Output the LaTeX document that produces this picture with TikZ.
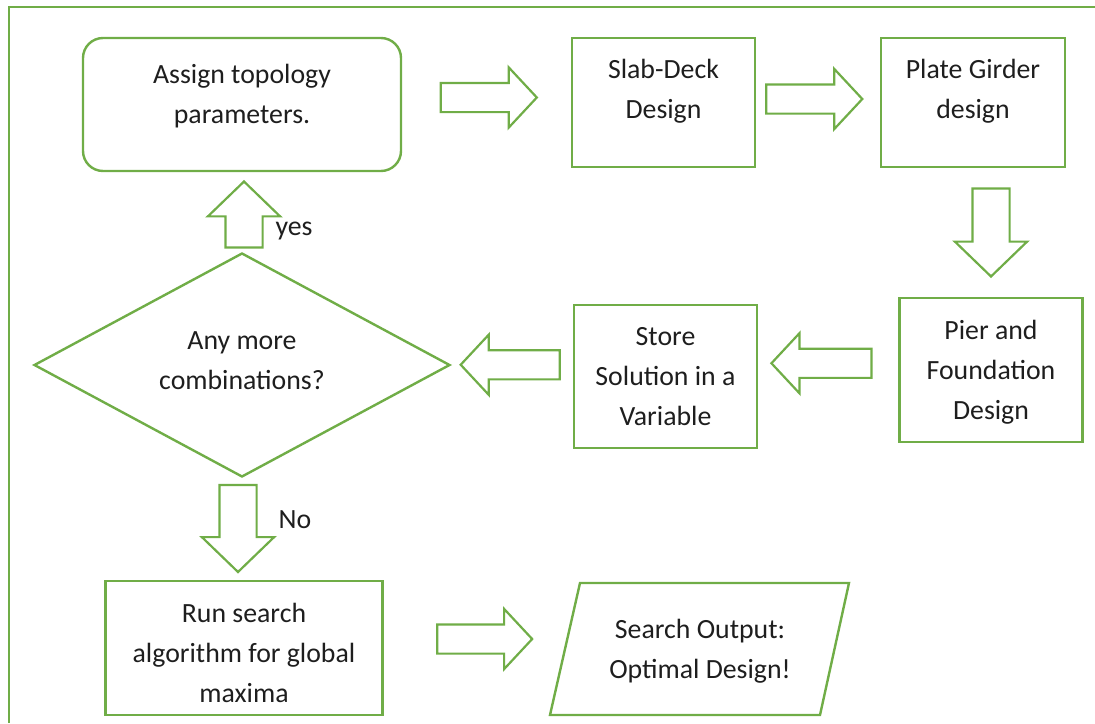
\documentclass[tikz,border=0pt]{standalone}
\usepackage{fontspec}
\setmainfont{Carlito}
\usepackage{tikz}
\usetikzlibrary{shapes.geometric, shapes.arrows, calc}
\definecolor{grn}{HTML}{70AD47}
\definecolor{ink}{HTML}{1E1E1E}

\begin{document}
\begin{tikzpicture}[
    x=1pt,y=-1pt,
    every node/.style={font=\fontsize{27.8}{40}\selectfont, text=ink, align=center},
    box/.style={draw=grn, line width=2.4pt, inner sep=0pt},
    txt/.style={inner sep=0pt},
    harrow/.style={single arrow, draw=grn, line width=2.2pt, fill=white, inner sep=13.5,
      single arrow head extend=15.5, single arrow tip angle=94},
    varrow/.style={single arrow, draw=grn, line width=2.2pt, fill=white, inner sep=17.5,
      single arrow head extend=17.5, single arrow tip angle=92}
    ]
    \useasboundingbox (0,0) rectangle (1095,723);
    \draw[grn, line width=2pt] (9,723) -- (9,7) -- (1095,7);

    \node[box, rounded corners=20, minimum width=318, minimum height=133] (assign) at (242,104.5) {};
    \node[txt] (assigntext) at (242,96.5) {Assign topology\\parameters.};
    \node[box, minimum width=183, minimum height=129] (slab) at (663.5,102.5) {};
    \node[txt] (slabtext) at (663.5,91.5) {Slab-Deck\\Design};
    \node[box, minimum width=184, minimum height=129] (plate) at (973,102.5) {};
    \node[txt] (platetext) at (973,91.5) {Plate Girder\\design};
    \node[box, minimum width=183, minimum height=144] (pier) at (991,370) {};
    \node[txt] (piertext) at (991,372) {Pier and\\Foundation\\Design};
    \node[box, minimum width=183, minimum height=143] (store) at (665.5,376.5) {Store\\Solution in a\\Variable};
    \node[box, diamond, minimum width=416, minimum height=224] (decide) at (242,365) {};
    \node[txt] (decidetext) at (242,361) {Any more\\combinations?};
    \node[box, minimum width=277, minimum height=134] (run) at (244,648) {};
    \node[txt] (runtext) at (244,652.5) {Run search\\algorithm for global\\maxima};
    \node[txt] (output) at (700,651) {Search Output:\\Optimal Design!};
    \draw[box] (580,583) -- (849,583) -- (820,715) -- (550,715) -- cycle;

    \node[harrow, minimum height=96, xshift=-4.5, yshift=6] (a1) at ($(assign.east)!.5!(slab.west)$) {};
    \node[harrow, minimum height=96, xshift=-10.5, yshift=3.5] (a2) at ($(slab.east)!.5!(plate.west)$) {};
    \node[varrow, shape border rotate=270, minimum height=88, yshift=9] (a3) at ($(plate.south -| pier.north)!.5!(pier.north)$) {};
    \node[harrow, shape border rotate=180, minimum height=100, yshift=10] (a4) at ($(pier.west)!.5!(store.east)$) {};
    \node[harrow, shape border rotate=180, minimum height=99, xshift=5, yshift=6] (a5) at ($(store.west)!.5!(decide.east)$) {};
    \node[varrow, shape border rotate=90, minimum height=66, xshift=2, yshift=-11.5] (up) at ($(decide.north)!.5!(assign.south)$) {};
    \node[varrow, shape border rotate=270, minimum height=87, xshift=-5, yshift=9.5] (down) at ($(decide.south)!.5!(run.north)$) {};
    \node[harrow, minimum height=95, xshift=-18.5, yshift=10.5] (a6) at ($(run.east)!.5!(output.west)$) {};

    \node[anchor=base] (yes) at (294,235.5) {yes};
    \node[anchor=base] (no) at (295,528) {No};
  \end{tikzpicture}
\end{document}
